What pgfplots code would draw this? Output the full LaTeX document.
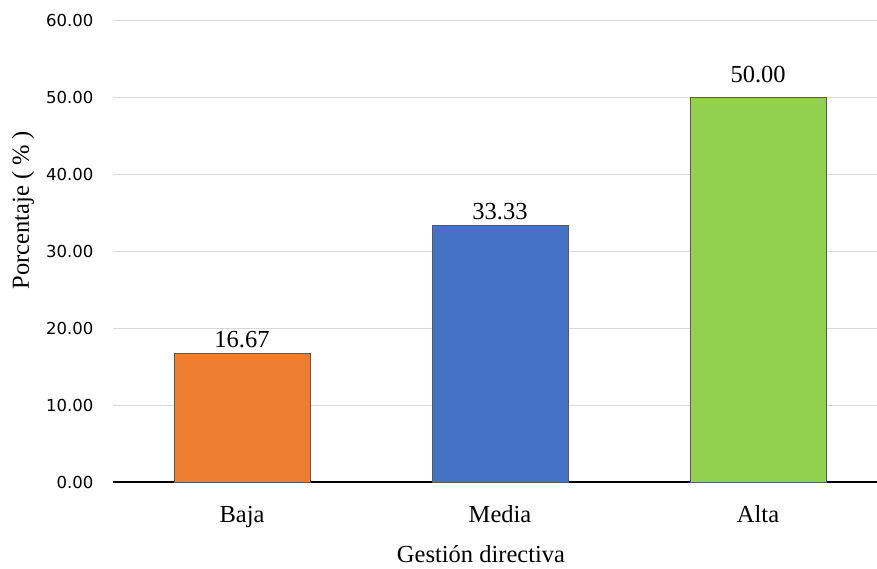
\documentclass[border=0pt]{standalone}
\usepackage{fontspec}
\setmainfont{Liberation Serif}
\newfontfamily\ticksfont{DejaVu Sans}
\usepackage{pgfplots}
\usepackage{pgfplotstable}
\pgfplotsset{compat=1.18}
\definecolor{cBaja}{HTML}{ED7D31}
\definecolor{cMedia}{HTML}{4472C4}
\definecolor{cAlta}{HTML}{92D050}
\definecolor{gridc}{HTML}{D9D9D9}
\definecolor{edgec}{HTML}{595959}
\pgfplotstableread{
x y off
0 16.67 6
}\tBaja
\pgfplotstableread{
x y off
1 33.33 6
}\tMedia
\pgfplotstableread{
x y off
2 50.00 15
}\tAlta
\begin{document}
\begin{tikzpicture}
\path[use as bounding box] (-113pt,-86pt) rectangle (764pt,482pt);
\begin{axis}[
  at={(0pt,0pt)}, anchor=south west,
  scale only axis,
  width=764pt, height=462pt,
  xmin=-0.5, xmax=2.461,
  ymin=0, ymax=60,
  ytick={0,10,20,30,40,50,60},
  xtick={0,1,2},
  xticklabels={Baja,Media,Alta},
  ymajorgrids,
  grid style={gridc, line width=1pt},
  axis x line*=bottom,
  axis y line*=left,
  y axis line style={draw=none},
  x axis line style={black, line width=1.3pt, -},
  major tick length=0pt,
  /pgf/number format/assume math mode=true,
  yticklabel style={font=\ticksfont\fontsize{16.5}{20}\selectfont, /pgf/number format/fixed, /pgf/number format/fixed zerofill, /pgf/number format/precision=2, anchor=east, xshift=-16pt},
  xticklabel style={font=\fontsize{24.5}{29}\selectfont, anchor=base, yshift=-40pt},
  ybar, bar width=136pt, bar shift=0pt,
  nodes near coords,
  nodes near coords style={font=\fontsize{24.5}{29}\selectfont, anchor=base, inner sep=0pt, /pgf/number format/fixed, /pgf/number format/fixed zerofill, /pgf/number format/precision=2},
  visualization depends on={\thisrow{off} \as \myoff},
  every node near coord/.append style={yshift=\myoff pt},
  clip=false,
]
\addplot[fill=cBaja, draw=edgec, line width=1pt] table[x=x,y=y] {\tBaja};
\addplot[fill=cMedia, draw=edgec, line width=1pt] table[x=x,y=y] {\tMedia};
\addplot[fill=cAlta, draw=edgec, line width=1pt] table[x=x,y=y] {\tAlta};
\end{axis}
\node[rotate=90, font=\fontsize{24.5}{29}\selectfont] at (-90pt,272pt) {Porcentaje (\hspace{6pt}\%\hspace{6pt})};
\node[font=\fontsize{24.5}{29}\selectfont] at (368pt,-72pt) {Gestión directiva};
\end{tikzpicture}
\end{document}
